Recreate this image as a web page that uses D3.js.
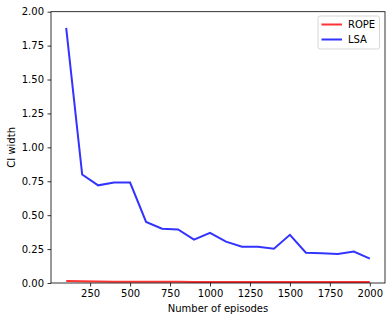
<!DOCTYPE html>
<html>
<head>
<meta charset="utf-8">
<script src="https://cdn.jsdelivr.net/npm/d3@7"></script>
<style>
  body { margin: 0; background: #fff; }
  text { font-family: "DejaVu Sans", sans-serif; }
</style>
</head>
<body>
<div id="chart"></div>
<script>
// Data
var episodes = [100, 200, 300, 400, 500, 600, 700, 800, 900, 1000,
                1100, 1200, 1300, 1400, 1500, 1600, 1700, 1800, 1900, 2000];
var lsaWidth = [1.88, 0.80, 0.72, 0.74, 0.74, 0.45, 0.40, 0.395, 0.32, 0.37,
                0.305, 0.268, 0.268, 0.253, 0.355, 0.223, 0.22, 0.213, 0.232, 0.18];
var ropeWidth = [0.015, 0.012, 0.011, 0.010, 0.010, 0.009, 0.009, 0.009, 0.008, 0.008,
                 0.008, 0.008, 0.008, 0.007, 0.007, 0.007, 0.007, 0.007, 0.007, 0.007];
var xTicks = [250, 500, 750, 1000, 1250, 1500, 1750, 2000];
var yTicks = [0, 0.25, 0.5, 0.75, 1.0, 1.25, 1.5, 1.75, 2.0];
var seriesNames = ["ROPE", "LSA"];

var svgWidth = 392, svgHeight = 321;
var margin = { top: 11.7, right: 7, bottom: 38, left: 51 };
var width = svgWidth - margin.left - margin.right;
var height = svgHeight - margin.top - margin.bottom;

var svg = d3.select("#chart").append("svg")
    .attr("width", svgWidth)
    .attr("height", svgHeight);

var g = svg.append("g")
    .attr("transform", `translate(${margin.left}, ${margin.top})`);

var x = d3.scaleLinear().domain([5, 2095]).range([0, width]);
var y = d3.scaleLinear().domain([0, 2]).range([height, 0]);

// axes
var xAxis = g.append("g")
    .attr("transform", `translate(0, ${height})`)
    .call(d3.axisBottom(x).tickValues(xTicks).tickSize(3.5).tickPadding(3.5).tickFormat(d3.format("d")));
var yAxis = g.append("g")
    .call(d3.axisLeft(y).tickValues(yTicks).tickSize(3.5).tickPadding(3.5).tickFormat(d3.format(".2f")));

[xAxis, yAxis].forEach(function(a) {
  a.select(".domain").remove();
  a.selectAll("text").attr("font-size", 10).attr("fill", "#000")
    .style("font-family", "DejaVu Sans, sans-serif");
  a.selectAll("line").attr("stroke", "#000").attr("stroke-width", 0.8);
});

// lines
var line = d3.line()
    .x(function(d) { return x(d[0]); })
    .y(function(d) { return y(d[1]); });

g.append("path")
    .datum(d3.zip(episodes, ropeWidth))
    .attr("fill", "none")
    .attr("stroke", "red")
    .attr("stroke-opacity", 0.8)
    .attr("stroke-width", 2)
    .attr("d", line);

g.append("path")
    .datum(d3.zip(episodes, lsaWidth))
    .attr("fill", "none")
    .attr("stroke", "blue")
    .attr("stroke-opacity", 0.8)
    .attr("stroke-width", 2)
    .attr("d", line);

// frame
g.append("rect")
    .attr("width", width)
    .attr("height", height)
    .attr("fill", "none")
    .attr("stroke", "#000")
    .attr("stroke-width", 0.8);

// axis labels
svg.append("text")
    .attr("x", margin.left + width / 2)
    .attr("y", 312)
    .attr("text-anchor", "middle")
    .attr("font-size", 10)
    .text("Number of episodes");

svg.append("text")
    .attr("transform", `translate(15, ${margin.top + height / 2}) rotate(-90)`)
    .attr("text-anchor", "middle")
    .attr("font-size", 10)
    .text("CI width");

// legend
var legend = svg.append("g").attr("transform", "translate(318, 16)");
legend.append("rect")
    .attr("width", 61.5)
    .attr("height", 33)
    .attr("rx", 2)
    .attr("fill", "#fff")
    .attr("fill-opacity", 0.8)
    .attr("stroke", "#ccc")
    .attr("stroke-width", 0.8);

var colors = ["red", "blue"];
seriesNames.forEach(function(name, i) {
  var ly = 8.5 + i * 15;
  legend.append("line")
    .attr("x1", 3.5).attr("x2", 24)
    .attr("y1", ly).attr("y2", ly)
    .attr("stroke", colors[i])
    .attr("stroke-opacity", 0.8)
    .attr("stroke-width", 2);
  legend.append("text")
    .attr("x", 30)
    .attr("y", ly + 3.5)
    .attr("font-size", 10)
    .text(name);
});
</script>
</body>
</html>
